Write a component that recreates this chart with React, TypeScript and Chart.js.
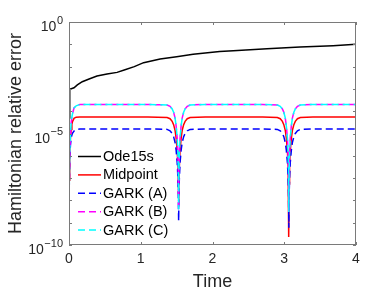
import React, { useEffect, useRef } from "react";
import { Chart, registerables } from "chart.js";

Chart.register(...registerables);

// ---- data ----
const time = [
  0, 0.01, 0.02, 0.03, 0.04, 0.05, 0.07, 0.1, 0.15, 0.25, 0.5, 0.8, 1.1,
  1.368, 1.408, 1.438, 1.458, 1.478, 1.493, 1.508, 1.518, 1.524, 1.528, 1.532,
  1.538, 1.548, 1.563, 1.578, 1.598, 1.618, 1.648, 1.688,
  1.9, 2.2, 2.5, 2.7,
  2.904, 2.944, 2.974, 2.994, 3.014, 3.029, 3.044, 3.054, 3.06, 3.064, 3.068,
  3.074, 3.084, 3.099, 3.114, 3.134, 3.154, 3.184, 3.224,
  3.4, 3.7, 4.0,
];

const midpoint = [
  8e-8, 1.6e-6, 6e-6, 1.5e-5, 2.6e-5, 3.5e-5, 4.8e-5, 5.4e-5, 5.5e-5, 5.5e-5, 5.5e-5, 5.5e-5, 5.5e-5,
  5.25e-5, 4.6e-5, 3.5e-5, 2.5e-5, 1.4e-5, 6.2e-6, 1.7e-6, 3.5e-7, 5.5e-8, 8e-9, 5.5e-8,
  3.5e-7, 1.7e-6, 6.2e-6, 1.4e-5, 2.5e-5, 3.5e-5, 4.6e-5, 5.25e-5,
  5.5e-5, 5.5e-5, 5.5e-5, 5.5e-5,
  5.25e-5, 4.6e-5, 3.5e-5, 2.5e-5, 1.4e-5, 6.2e-6, 1.7e-6, 3.5e-7, 5.5e-8, 2.3e-10, 5.5e-8,
  3.5e-7, 1.7e-6, 6.2e-6, 1.4e-5, 2.5e-5, 3.5e-5, 4.6e-5, 5.25e-5,
  5.5e-5, 5.5e-5, 5.5e-5,
];

const garkA = [
  8e-9, 9e-7, 3e-6, 6e-6, 8.5e-6, 1.05e-5, 1.3e-5, 1.5e-5, 1.6e-5, 1.6e-5, 1.6e-5, 1.6e-5, 1.6e-5,
  1.53e-5, 1.33e-5, 1.0e-5, 7.2e-6, 4e-6, 1.8e-6, 5e-7, 1e-7, 1.6e-8, 1.2e-9, 1.6e-8,
  1e-7, 5e-7, 1.8e-6, 4e-6, 7.2e-6, 1.0e-5, 1.33e-5, 1.53e-5,
  1.6e-5, 1.6e-5, 1.6e-5, 1.6e-5,
  1.53e-5, 1.33e-5, 1.0e-5, 7.2e-6, 4e-6, 1.8e-6, 5e-7, 1e-7, 1.6e-8, 6e-10, 1.6e-8,
  1e-7, 5e-7, 1.8e-6, 4e-6, 7.2e-6, 1.0e-5, 1.33e-5, 1.53e-5,
  1.6e-5, 1.6e-5, 1.6e-5,
];

const garkB = [
  5e-9, 1.5e-6, 8e-6, 3e-5, 5.5e-5, 8e-5, 1.4e-4, 1.75e-4, 2e-4, 2e-4, 2e-4, 2e-4, 2e-4,
  1.9e-4, 1.66e-4, 1.26e-4, 8.9e-5, 5e-5, 2.2e-5, 6.3e-6, 1.3e-6, 2e-7, 4e-9, 2e-7,
  1.3e-6, 6.3e-6, 2.2e-5, 5e-5, 8.9e-5, 1.26e-4, 1.66e-4, 1.9e-4,
  2e-4, 2e-4, 2e-4, 2e-4,
  1.9e-4, 1.66e-4, 1.26e-4, 8.9e-5, 5e-5, 2.2e-5, 6.3e-6, 1.3e-6, 2e-7, 3e-9, 2e-7,
  1.3e-6, 6.3e-6, 2.2e-5, 5e-5, 8.9e-5, 1.26e-4, 1.66e-4, 1.9e-4,
  2e-4, 2e-4, 2e-4,
];

const garkC = [
  5e-9, 1.5e-6, 8e-6, 3e-5, 5.5e-5, 8e-5, 1.4e-4, 1.75e-4, 2e-4, 2e-4, 2e-4, 2e-4, 2e-4,
  1.9e-4, 1.66e-4, 1.26e-4, 8.9e-5, 5e-5, 2.2e-5, 6.3e-6, 1.3e-6, 2e-7, 4e-9, 2e-7,
  1.3e-6, 6.3e-6, 2.2e-5, 5e-5, 8.9e-5, 1.26e-4, 1.66e-4, 1.9e-4,
  2e-4, 2e-4, 2e-4, 2e-4,
  1.9e-4, 1.66e-4, 1.26e-4, 8.9e-5, 5e-5, 2.2e-5, 6.3e-6, 1.3e-6, 2e-7, 3e-9, 2e-7,
  1.3e-6, 6.3e-6, 2.2e-5, 5e-5, 8.9e-5, 1.26e-4, 1.66e-4, 1.9e-4,
  2e-4, 2e-4, 2e-4,
];

const odeTime = [
  0, 0.01, 0.07, 0.116, 0.185, 0.28, 0.39, 0.53, 0.67, 0.77, 0.91, 1.04, 1.27,
  1.5, 1.73, 2.1, 2.29, 2.76, 3.22, 3.68, 4.0,
];
const ode15s = [
  5e-5, 9.6e-4, 1.13e-3, 1.5e-3, 2.1e-3, 2.77e-3, 3.8e-3, 4.7e-3, 5.5e-3, 7e-3,
  1e-2, 1.5e-2, 2.2e-2, 2.75e-2, 3.55e-2, 4.7e-2, 5.1e-2, 6.3e-2, 7.6e-2,
  8.7e-2, 0.1,
];

const seriesNames = ["Ode15s", "Midpoint", "GARK (A)", "GARK (B)", "GARK (C)"];
const seriesColors = ["#000000", "#ff0000", "#0000ff", "#ff00ff", "#00ffff"];
const xTickValues = [0, 1, 2, 3, 4];
const yTickValues = [1e-10, 1e-9, 1e-8, 1e-7, 1e-6, 1e-5, 1e-4, 1e-3, 1e-2, 1e-1, 1];
const yLabelValues = [1e-10, 1e-5, 1];
const yLabelBase = "10";
const yLabelExponents = ["\u221210", "\u22125", "0"];

const FONT = "'Liberation Sans', Arial, Helvetica, sans-serif";
const AXIS_COLOR = "#7a7a7a";
const TEXT_COLOR = "#262626";

const pts = (xs: number[], ys: number[]) => xs.map((x, i) => ({ x, y: ys[i] }));

const boxPlugin = {
  id: "boxTicks",
  afterDraw(chart: any) {
    const { ctx, chartArea, scales } = chart;
    const { left, right, top, bottom } = chartArea;
    ctx.save();
    ctx.strokeStyle = AXIS_COLOR;
    ctx.lineWidth = 1;
    ctx.strokeRect(left + 0.5, top + 0.5, right - left - 1, bottom - top - 1);
    ctx.beginPath();
    for (const v of xTickValues) {
      const px = Math.round(scales.x.getPixelForValue(v)) + 0.5;
      ctx.moveTo(px, bottom);
      ctx.lineTo(px, bottom - 3);
      ctx.moveTo(px, top);
      ctx.lineTo(px, top + 3);
    }
    for (const v of yTickValues) {
      const py = Math.round(scales.y.getPixelForValue(v)) + 0.5;
      ctx.moveTo(left, py);
      ctx.lineTo(left + 3, py);
      ctx.moveTo(right, py);
      ctx.lineTo(right - 3, py);
    }
    ctx.stroke();

    // y tick labels with superscript exponents
    ctx.fillStyle = TEXT_COLOR;
    ctx.textAlign = "right";
    ctx.textBaseline = "alphabetic";
    const rightEdge = left - 6;
    yLabelValues.forEach((v, i) => {
      const py = scales.y.getPixelForValue(v);
      ctx.font = `11px ${FONT}`;
      const expText = yLabelExponents[i];
      const expW = ctx.measureText(expText).width;
      ctx.fillText(expText, rightEdge, py + 1.5);
      ctx.font = `14px ${FONT}`;
      ctx.fillText(yLabelBase, rightEdge - expW - 0.5, py + 9);
    });
    ctx.restore();
  },
};

const legendPlugin = {
  id: "insideLegend",
  afterDatasetsDraw(chart: any) {
    const { ctx } = chart;
    ctx.save();
    ctx.font = `14.5px ${FONT}`;
    ctx.textBaseline = "middle";
    ctx.textAlign = "left";
    seriesNames.forEach((name, i) => {
      const y = 156.5 + i * 18.4;
      ctx.strokeStyle = seriesColors[i];
      ctx.lineWidth = 1.5;
      ctx.setLineDash(i >= 2 ? [7, 4] : []);
      ctx.beginPath();
      ctx.moveTo(78, y);
      ctx.lineTo(101, y);
      ctx.stroke();
      ctx.setLineDash([]);
      ctx.fillStyle = "#000000";
      ctx.fillText(name, 103, y + 0.5);
    });
    ctx.restore();
  },
};

export default function App() {
  const ref = useRef<HTMLCanvasElement | null>(null);

  useEffect(() => {
    if (!ref.current) return;
    const dash = [7, 4];
    const chart = new Chart(ref.current, {
      type: "line",
      data: {
        datasets: [
          { label: seriesNames[0], data: pts(odeTime, ode15s), borderColor: seriesColors[0], borderWidth: 1.5, order: 5 },
          { label: seriesNames[1], data: pts(time, midpoint), borderColor: seriesColors[1], borderWidth: 1.5, order: 4 },
          { label: seriesNames[2], data: pts(time, garkA), borderColor: seriesColors[2], borderWidth: 1.5, borderDash: dash, order: 3 },
          { label: seriesNames[3], data: pts(time, garkB), borderColor: seriesColors[3], borderWidth: 1.5, borderDash: dash, borderDashOffset: 5, order: 2 },
          { label: seriesNames[4], data: pts(time, garkC), borderColor: seriesColors[4], borderWidth: 1.5, borderDash: dash, order: 1 },
        ],
      },
      options: {
        animation: false,
        responsive: true,
        maintainAspectRatio: false,
        layout: { padding: { left: 0, right: 18, top: 22, bottom: 0 } },
        elements: { point: { radius: 0 }, line: { tension: 0, fill: false } },
        plugins: { legend: { display: false }, tooltip: { enabled: false } },
        scales: {
          x: {
            type: "linear",
            min: 0,
            max: 4,
            grid: { display: false, drawTicks: false },
            border: { display: false },
            afterBuildTicks: (s: any) => {
              s.ticks = xTickValues.map((v) => ({ value: v }));
            },
            afterFit: (s: any) => {
              s.height = 53;
            },
            ticks: {
              padding: 6,
              color: TEXT_COLOR,
              font: { family: FONT, size: 14 },
              maxRotation: 0,
              autoSkip: false,
            },
            title: {
              display: true,
              text: "Time",
              color: TEXT_COLOR,
              font: { family: FONT, size: 18 },
              padding: { top: 0, bottom: 5 },
            },
          },
          y: {
            type: "logarithmic",
            min: 1e-10,
            max: 1,
            grid: { display: false, drawTicks: false },
            border: { display: false },
            afterBuildTicks: (s: any) => {
              s.ticks = yTickValues.map((v) => ({ value: v }));
            },
            afterFit: (s: any) => {
              s.width = 69;
            },
            ticks: { display: false },
            title: {
              display: true,
              text: "Hamiltonian relative error",
              color: TEXT_COLOR,
              font: { family: FONT, size: 18 },
              padding: { top: 5, bottom: 0 },
            },
          },
        },
      },
      plugins: [boxPlugin, legendPlugin],
    } as any);
    return () => chart.destroy();
  }, []);

  return (
    <div style={{ position: "fixed", left: 0, top: 0, width: 374, height: 298, background: "#ffffff" }}>
      <canvas ref={ref} />
    </div>
  );
}
